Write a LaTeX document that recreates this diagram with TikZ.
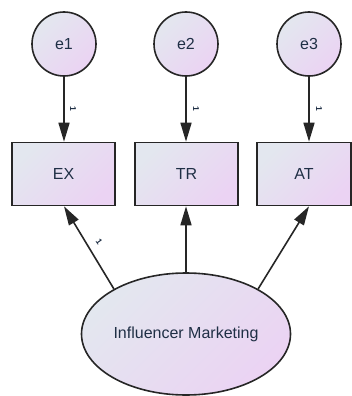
\documentclass[tikz,border=0pt]{standalone}
\usepackage{fontspec}
\setmainfont{Liberation Sans}
\usetikzlibrary{arrows.meta,shapes.geometric}
\definecolor{fillA}{HTML}{E3E7EF}
\definecolor{fillB}{HTML}{EBD3F3}
\definecolor{ink}{HTML}{1F2F45}
\tikzset{
  base/.style={draw=black!85, line width=1.6pt, top color=fillA, bottom color=fillB,
    shading angle=45, text=ink, font=\fontsize{16}{18}\selectfont, inner sep=0pt},
  errnode/.style={base, circle, minimum size=64pt},
  obsnode/.style={base, rectangle, minimum width=103pt, minimum height=63pt},
  latnode/.style={base, ellipse, minimum width=209pt, minimum height=122pt},
  path/.style={line width=1.6pt, draw=black!85, -{Triangle[length=19pt,width=11pt]}},
  wlabel/.style={font=\bfseries\fontsize{8.5}{9}\selectfont, text=ink, inner sep=0pt}
}
\begin{document}
\begin{tikzpicture}[x=1pt,y=-1pt]
  \useasboundingbox (0,0) rectangle (352,396);
  \begin{scope}
  \clip (0,0) rectangle (352,396);
  % error terms
  \node[errnode] (e1) at (64,44) {e1};
  \node[errnode] (e2) at (186,44) {e2};
  \node[errnode] (e3) at (309,44) {e3};
  % observed indicators
  \node[obsnode] (EX) at (63.5,174) {EX};
  \node[obsnode] (TR) at (186.5,174) {TR};
  \node[obsnode, minimum width=94pt] (AT) at (304,174) {AT};
  % latent factor
  \node[latnode] (IM) at (186,334) {Influencer Marketing};
  % error paths
  \draw[path] (e1) -- (e1 |- EX.north);
  \draw[path] (e2) -- (e2 |- TR.north);
  \draw[path] (e3) -- (e3 |- AT.north);
  % loadings
  \draw[path] (IM.148) -- (e1 |- EX.south);
  \draw[path] (IM.north) -- (e2 |- TR.south);
  \draw[path] (IM.32) -- (e3 |- AT.south);
  % fixed weights
  \node[wlabel, rotate=-90] (w1) at (73,109) {1};
  \node[wlabel, rotate=-90] (w2) at (196,109) {1};
  \node[wlabel, rotate=-90] (w3) at (319,109) {1};
  \node[wlabel, rotate=-55] (w4) at (99,242) {1};
  \end{scope}
\end{tikzpicture}
\end{document}
